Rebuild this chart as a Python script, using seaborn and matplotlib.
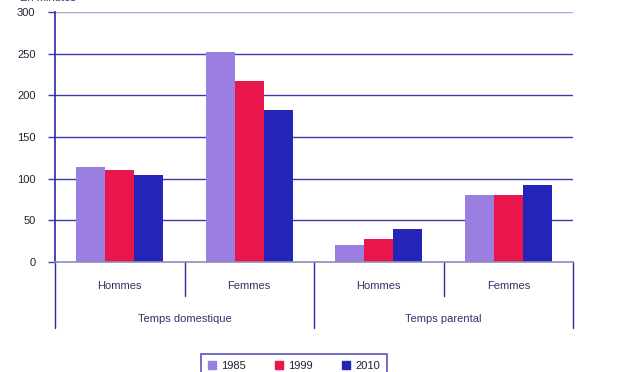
import pandas as pd
import numpy as np
import matplotlib
matplotlib.use("Agg")
import matplotlib.pyplot as plt
import matplotlib.transforms as mtransforms
import seaborn as sns

# Values (minutes per day)
groups = ["Temps domestique", "Temps domestique", "Temps parental", "Temps parental"]
sexes = ["Hommes", "Femmes", "Hommes", "Femmes"]
years = ["1985", "1999", "2010"]
v1985 = [114, 252, 21, 81]
v1999 = [110, 217, 28, 81]
v2010 = [104, 182, 40, 93]
y_ticks = [0, 50, 100, 150, 200, 250, 300]
colors = ["#9a7ee0", "#e8164a", "#2424b8"]

keys = ["%s|%s" % (g, s) for g, s in zip(groups, sexes)]
rows = []
for yr, vals in zip(years, [v1985, v1999, v2010]):
    for k, v in zip(keys, vals):
        rows.append({"key": k, "year": yr, "value": v})
df = pd.DataFrame(rows)

sns.set_style("white")
plt.rcParams["font.family"] = ["Liberation Sans", "DejaVu Sans"]

fig = plt.figure(figsize=(6.2, 3.72), dpi=100)
ax = fig.add_axes([55 / 620, 110 / 372, 518 / 620, 250 / 372])

sns.barplot(data=df, x="key", y="value", hue="year", order=keys,
            hue_order=years, palette=colors, width=0.67, saturation=1,
            linewidth=0, ax=ax, legend=False)

ax.set_xlim(-0.5, len(keys) - 0.5)
ax.set_ylim(0, 300)
ax.set_yticks(y_ticks)
ax.set_yticklabels([str(t) for t in y_ticks], fontsize=8, color="#222233")
ax.tick_params(axis="y", length=5, width=1, color="#3a3aaa", pad=9, left=True)
ax.tick_params(axis="x", length=0, labelbottom=False)
ax.set_xlabel("")
ax.set_ylabel("")

ax.set_axisbelow(True)
ax.yaxis.grid(True, color="#3a3aaa", linewidth=1)
gl = ax.get_ygridlines()
gl[-1].set_color("#a8a8d8")
gl[0].set_visible(False)

for s in ["top", "right"]:
    ax.spines[s].set_visible(False)
ax.spines["left"].set_color("#2a2aa8")
ax.spines["left"].set_linewidth(1.2)
ax.spines["bottom"].set_color("#8c8cc0")
ax.spines["bottom"].set_linewidth(1.2)

# hierarchical category axis below the bars
trans = mtransforms.blended_transform_factory(ax.transData, ax.transAxes)
line_col = "#2a2aa8"
for i, xpos in enumerate(np.arange(-0.5, len(keys), 1.0)):
    if i in (0, 2, 4):
        bottom = -0.264
    else:
        bottom = -0.136
    ax.plot([xpos, xpos], [0, bottom], transform=trans, color=line_col,
            lw=1, clip_on=False)
for i, s in enumerate(sexes):
    ax.text(i, -0.096, s, transform=trans, ha="center", va="center",
            fontsize=8, color="#3a2f6b")
for i in range(0, len(keys), 2):
    ax.text(i + 0.5, -0.228, groups[i], transform=trans, ha="center",
            va="center", fontsize=8, color="#3a2f6b")

# axis unit label, mostly above the top edge as in the source image
fig.text(20 / 620, 1 - 3 / 372, "En minutes", fontsize=8, color="#3a2f6b",
         ha="left", va="bottom")

handles = [plt.Rectangle((0, 0), 1, 1, color=c) for c in colors]
leg = fig.legend(handles, years, loc="upper center", ncol=3,
                 bbox_to_anchor=(294 / 620, 1 - 354 / 372), fontsize=8,
                 frameon=True, fancybox=False, handlelength=0.75,
                 handleheight=0.75, handletextpad=0.45, columnspacing=2.6,
                 borderpad=0.6, borderaxespad=0)
leg.get_frame().set_edgecolor("#2a2aa8")
leg.get_frame().set_linewidth(1.2)
for t in leg.get_texts():
    t.set_color("#222233")

fig.savefig("out.png", dpi=100)
